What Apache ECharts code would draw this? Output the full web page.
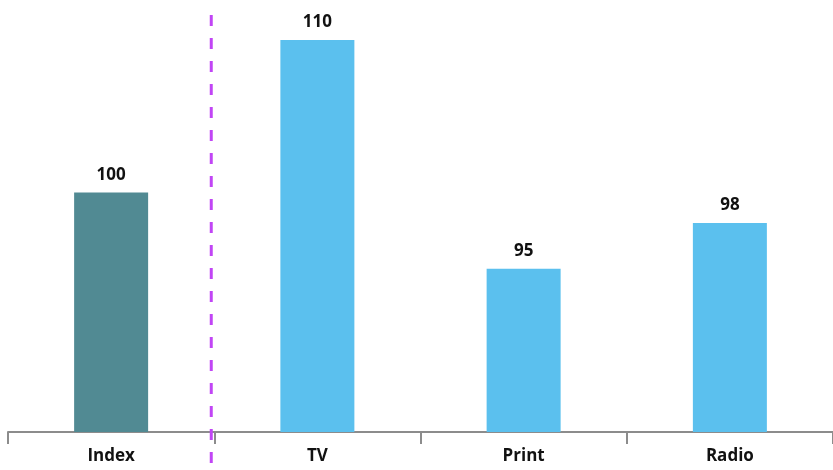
<!DOCTYPE html>
<html>
<head>
<meta charset="utf-8">
<script src="https://cdn.jsdelivr.net/npm/echarts@6/dist/echarts.min.js"></script>
<style>
  html, body { margin: 0; padding: 0; background: #fff; }
  #main { width: 833px; height: 470px; }
</style>
</head>
<body>
<div id="main"></div>
<script>
// values
const categories = ['Index', 'TV', 'Print', 'Radio']
const values = [100, 110, 95, 98]
const barColors = ['#518a93', '#5bc0ee', '#5bc0ee', '#5bc0ee']

let chart = echarts.init(document.getElementById('main'))
chart.setOption({
  animation: false,
  grid: { left: 8, width: 830, top: 5, bottom: 38 },
  xAxis: {
    type: 'category',
    data: categories,
    axisLine: { lineStyle: { color: '#8c8c8c', width: 2 } },
    axisTick: { show: true, length: 12, inside: false, lineStyle: { color: '#8c8c8c', width: 2 } },
    axisLabel: {
      color: '#111',
      fontFamily: 'Open Sans',
      fontWeight: 'bold',
      fontSize: 17,
      margin: 16
    }
  },
  yAxis: {
    type: 'value',
    min: 84.3,
    max: 112.3,
    show: false,
    splitLine: { show: false }
  },
  series: [{
    type: 'bar',
    barWidth: 74,
    data: values.map((v, i) => ({ value: v, itemStyle: { color: barColors[i] } })),
    label: {
      show: true,
      position: 'top',
      distance: 9,
      color: '#111',
      fontFamily: 'Open Sans',
      fontWeight: 'bold',
      fontSize: 17
    }
  }]
})

// dashed divider between Index and the media bars
let x0 = chart.convertToPixel({ xAxisIndex: 0 }, 0)
let x1 = chart.convertToPixel({ xAxisIndex: 0 }, 1)
let xd = (x0 + x1) / 2 - 3
chart.setOption({
  graphic: [{
    type: 'line',
    shape: { x1: xd, y1: 15, x2: xd, y2: 470 },
    style: { stroke: '#c145f5', lineWidth: 3, lineDash: [11, 12] },
    z: 10
  }]
})
</script>
</body>
</html>
